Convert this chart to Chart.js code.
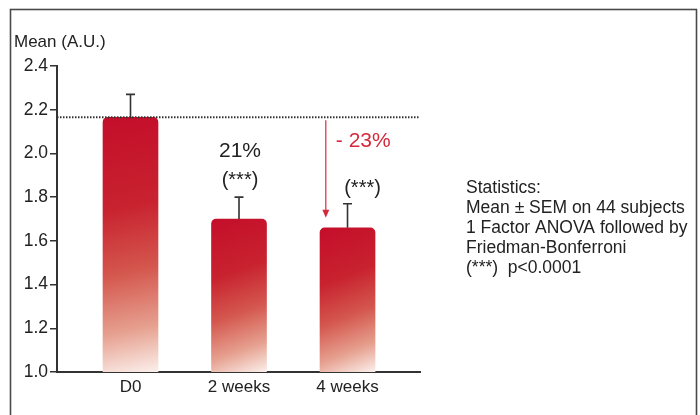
<!DOCTYPE html>
<html>
<head>
<meta charset="utf-8">
<script src="https://cdn.jsdelivr.net/npm/chart.js@4.4.1/dist/chart.umd.min.js"></script>
<style>
  html, body { margin: 0; padding: 0; background: #ffffff; }
  #wrap { width: 700px; height: 415px; position: relative; }
</style>
</head>
<body>
<div id="wrap"><canvas id="chart" width="700" height="415"></canvas></div>
<script>
// Visit labels and measured values (arbitrary units)
const categories = ['D0', '2 weeks', '4 weeks'];
const meanValues = [2.165, 1.70, 1.66];
const semUpper = [2.27, 1.80, 1.77];          // mean + SEM
const changeLabels = ['', '21%', '- 23%'];
const significance = ['', '(***)', '(***)'];
const yMin = 1.0, yMax = 2.4, yStep = 0.2;
const axisTitle = 'Mean (A.U.)';
const statsLines = [
  'Statistics:',
  'Mean \u00B1 SEM on 44 subjects',
  '1 Factor ANOVA followed by',
  'Friedman-Bonferroni',
  '(***)  p<0.0001'
];

const FONT = '"Liberation Sans", Arial, Helvetica, sans-serif';
const INK = '#222222';
const RED_TEXT = '#d42a3c';

// Red-to-pale gradient for each bar, laid out along the bar's diagonal
function barGradient(ctx) {
  const chart = ctx.chart;
  const xs = chart.scales.x, ys = chart.scales.y;
  if (!xs || !ys || ctx.dataIndex == null) return '#c8102e';
  const i = ctx.dataIndex;
  const cx = xs.getPixelForValue(i);
  const top = ys.getPixelForValue(meanValues[i]);
  const bottom = ys.getPixelForValue(yMin);
  if (!isFinite(cx) || !isFinite(top) || !isFinite(bottom)) return '#c8102e';
  const g = chart.ctx.createLinearGradient(cx - 28, top, cx + 28, bottom);
  g.addColorStop(0.00, '#c40e2a');
  g.addColorStop(0.35, '#c8222f');
  g.addColorStop(0.60, '#d4574e');
  g.addColorStop(0.82, '#e6a08f');
  g.addColorStop(1.00, '#fbf0ec');
  return g;
}

// Frame, axis title, reference line, error bars, annotations and notes
const decorations = {
  id: 'decorations',
  beforeDraw(chart) {
    const c = chart.ctx;
    c.save();
    c.fillStyle = '#ffffff';
    c.fillRect(0, 0, chart.width, chart.height);
    c.strokeStyle = '#4a4a4a';
    c.lineWidth = 1.6;
    c.strokeRect(10.5, 9.5, 686, 440);
    c.restore();
  },
  afterDatasetsDraw(chart) {
    const c = chart.ctx;
    const xs = chart.scales.x, ys = chart.scales.y;
    const area = chart.chartArea;
    c.save();

    // baseline level of D0 as a dotted line
    const refY = ys.getPixelForValue(meanValues[0]);
    c.strokeStyle = '#333333';
    c.lineWidth = 2;
    c.setLineDash([1.5, 1.5]);
    c.beginPath();
    c.moveTo(area.left, refY);
    c.lineTo(area.right, refY);
    c.stroke();
    c.setLineDash([]);

    // upper SEM whiskers
    c.strokeStyle = '#333333';
    c.lineWidth = 1.6;
    semUpper.forEach((v, i) => {
      const x = xs.getPixelForValue(i);
      const yTop = ys.getPixelForValue(v);
      const yBar = ys.getPixelForValue(meanValues[i]);
      c.beginPath();
      c.moveTo(x, yBar);
      c.lineTo(x, yTop);
      c.moveTo(x - 4.5, yTop);
      c.lineTo(x + 4.5, yTop);
      c.stroke();
    });

    // arrow showing the drop at 4 weeks
    const ax = xs.getPixelForValue(2 - 0.2);
    const ay0 = refY + 3;
    const ay1 = ys.getPixelForValue(meanValues[2]) - 10;
    c.strokeStyle = RED_TEXT;
    c.fillStyle = RED_TEXT;
    c.lineWidth = 1.2;
    c.beginPath();
    c.moveTo(ax, ay0);
    c.lineTo(ax, ay1 - 7);
    c.stroke();
    c.beginPath();
    c.moveTo(ax - 3.5, ay1 - 8);
    c.lineTo(ax + 3.5, ay1 - 8);
    c.lineTo(ax, ay1);
    c.closePath();
    c.fill();

    // percentage changes and significance marks
    c.textBaseline = 'middle';
    c.textAlign = 'center';
    c.fillStyle = INK;
    c.font = '21px ' + FONT;
    c.fillText(changeLabels[1], xs.getPixelForValue(1) + 1, ys.getPixelForValue(semUpper[1]) - 46);
    c.font = '20px ' + FONT;
    c.fillText(significance[1], xs.getPixelForValue(1) + 1, ys.getPixelForValue(semUpper[1]) - 17);
    c.fillText(significance[2], xs.getPixelForValue(2) + 15, ys.getPixelForValue(semUpper[2]) - 15);

    c.textAlign = 'left';
    c.fillStyle = RED_TEXT;
    c.font = '21px ' + FONT;
    c.fillText(changeLabels[2], ax + 10, refY + 24);

    // axis title
    c.fillStyle = INK;
    c.font = '17px ' + FONT;
    c.textAlign = 'left';
    c.fillText(axisTitle, 14, 42);

    // statistics note
    c.font = '17.5px ' + FONT;
    statsLines.forEach((line, k) => {
      c.fillText(line, 466, 188 + k * 20);
    });

    c.restore();
  }
};

const ctx = document.getElementById('chart').getContext('2d');
new Chart(ctx, {
  type: 'bar',
  data: {
    datasets: [{
      data: meanValues.map((v, i) => ({ x: i, y: v })),
      backgroundColor: barGradient,
      borderWidth: 0,
      borderRadius: 5,
      borderSkipped: false,
      barThickness: 55
    }]
  },
  options: {
    responsive: false,
    animation: false,
    events: [],
    layout: { padding: { left: 0, right: 280, top: 66, bottom: 0 } },
    plugins: {
      legend: { display: false },
      tooltip: { enabled: false },
      title: { display: false }
    },
    scales: {
      x: {
        type: 'linear',
        offset: false,
        min: -0.6774,
        max: 2.668,
        afterBuildTicks(scale) {
          scale.ticks = categories.map((_, i) => ({ value: i }));
        },
        afterFit(scale) { scale.height = 43; },
        ticks: {
          callback: (v) => categories[v],
          color: INK,
          font: { family: FONT, size: 17 },
          padding: 5,
          maxRotation: 0,
          autoSkip: false
        },
        grid: { display: false, drawTicks: false },
        border: { display: true, color: '#333333', width: 2 }
      },
      y: {
        min: yMin,
        max: yMax,
        afterFit(scale) { scale.width = 57; },
        ticks: {
          stepSize: yStep,
          callback: (v) => Number(v).toFixed(1),
          color: INK,
          font: { family: FONT, size: 17.5 },
          padding: 2
        },
        grid: {
          drawOnChartArea: false,
          drawTicks: true,
          tickLength: 7,
          color: '#333333',
          lineWidth: 1.5
        },
        border: { display: true, color: '#333333', width: 2 }
      }
    }
  },
  plugins: [decorations]
});
</script>
</body>
</html>
